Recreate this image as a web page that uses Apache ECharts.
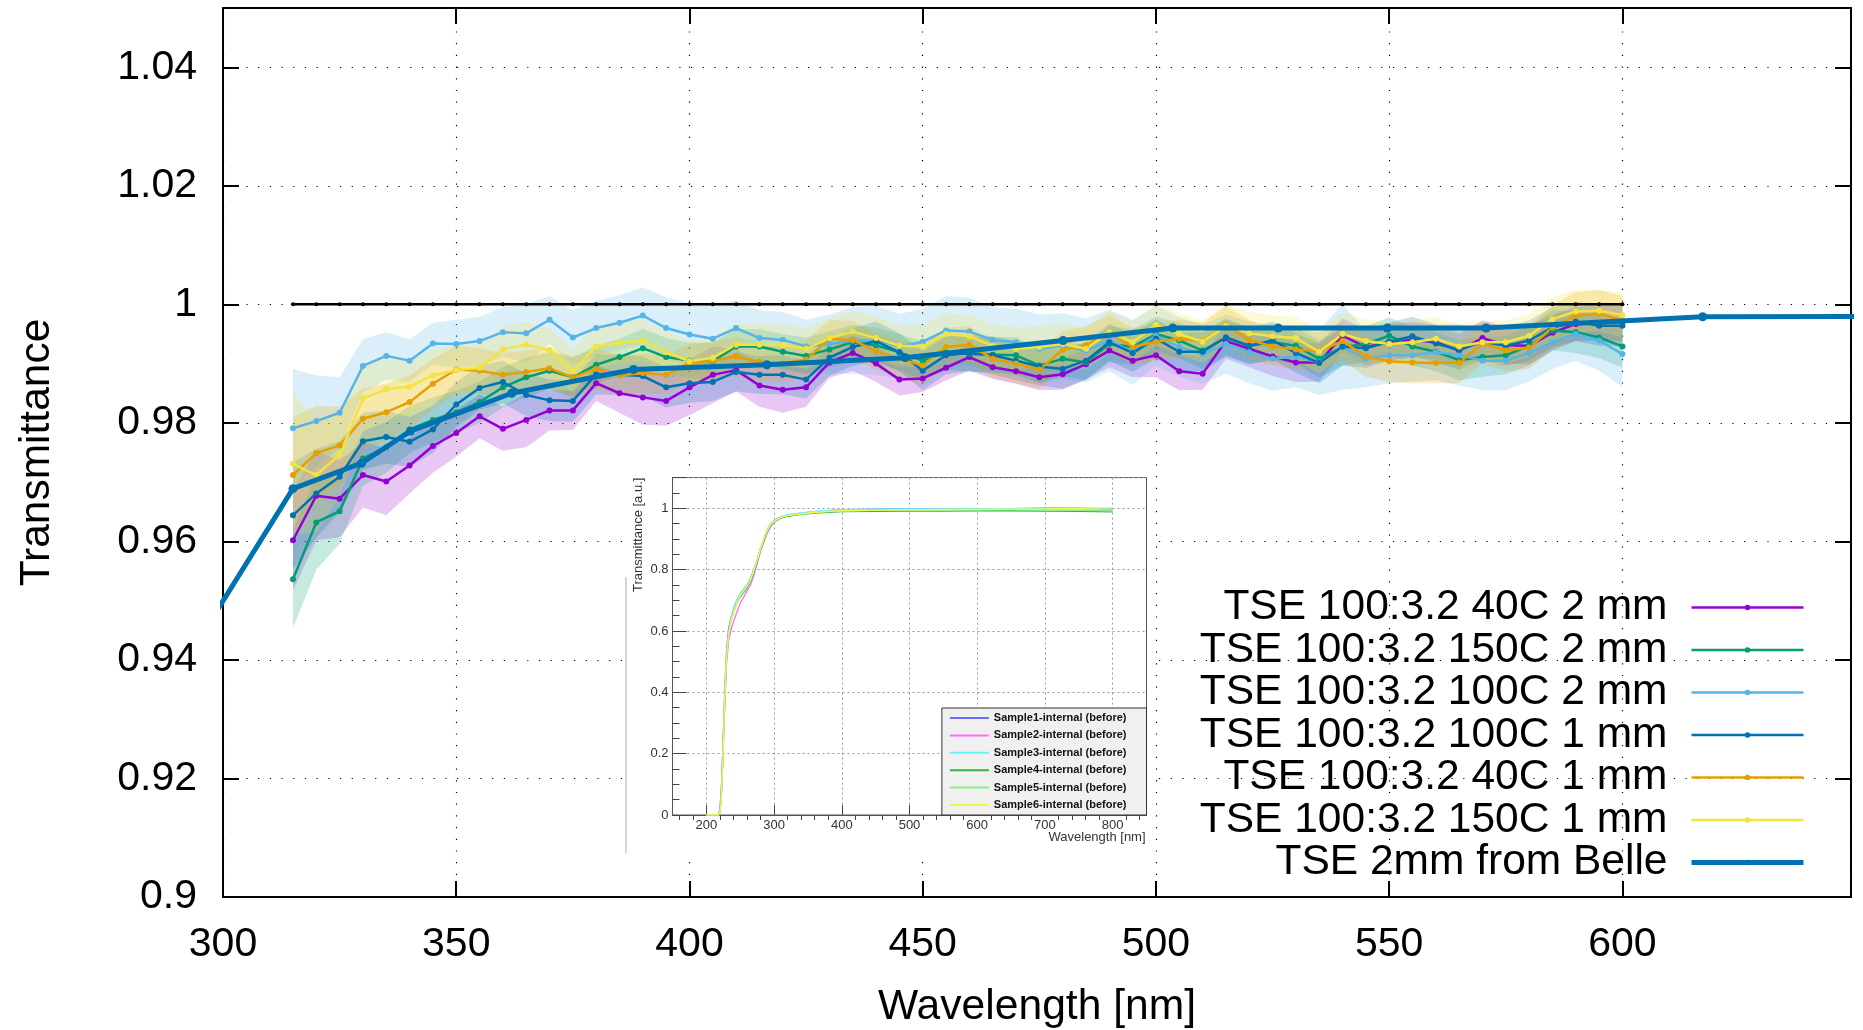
<!DOCTYPE html>
<html><head><meta charset="utf-8">
<script src="https://cdn.jsdelivr.net/npm/echarts@6/dist/echarts.min.js"></script>
<style>html,body{margin:0;padding:0;background:#fff}#c{width:1863px;height:1030px}</style>
</head><body><div id="c"></div>
<script>
// ---------- main chart data ----------
const WAVELENGTHS = [315,320,325,330,335,340,345,350,355,360,365,370,375,380,385,390,395,400,405,410,415,420,425,430,435,440,445,450,455,460,465,470,475,480,485,490,495,500,505,510,515,520,525,530,535,540,545,550,555,560,565,570,575,580,585,590,595,600];
const REFERENCE_ONE = [1,1,1,1,1,1,1,1,1,1,1,1,1,1,1,1,1,1,1,1,1,1,1,1,1,1,1,1,1,1,1,1,1,1,1,1,1,1,1,1,1,1,1,1,1,1,1,1,1,1,1,1,1,1,1,1,1,1];

const TSE_40C_2MM = [0.9602,0.9677,0.9672,0.9712,0.9701,0.9728,0.9761,0.9783,0.9811,0.9790,0.9805,0.9821,0.9821,0.9867,0.9850,0.9843,0.9837,0.9860,0.9881,0.9889,0.9863,0.9856,0.9860,0.9902,0.9918,0.9900,0.9873,0.9875,0.9893,0.9911,0.9894,0.9887,0.9877,0.9882,0.9899,0.9922,0.9905,0.9914,0.9887,0.9883,0.9938,0.9925,0.9912,0.9902,0.9902,0.9947,0.9928,0.9936,0.9940,0.9936,0.9922,0.9943,0.9931,0.9930,0.9952,0.9967,0.9968,0.9970];
const TSE_40C_2MM_ERR = [0.0085,0.0075,0.0065,0.0055,0.0057,0.0047,0.0045,0.0040,0.0037,0.0037,0.0046,0.0034,0.0033,0.0030,0.0033,0.0046,0.0042,0.0047,0.0048,0.0036,0.0036,0.0039,0.0033,0.0026,0.0030,0.0031,0.0027,0.0023,0.0021,0.0023,0.0020,0.0021,0.0022,0.0026,0.0026,0.0028,0.0028,0.0037,0.0032,0.0027,0.0030,0.0031,0.0033,0.0033,0.0032,0.0029,0.0030,0.0031,0.0030,0.0029,0.0028,0.0030,0.0031,0.0032,0.0030,0.0029,0.0030,0.0031];

const TSE_150C_2MM = [0.9536,0.9632,0.9651,0.9740,0.9759,0.9789,0.9805,0.9818,0.9835,0.9860,0.9877,0.9888,0.9877,0.9898,0.9911,0.9926,0.9911,0.9905,0.9904,0.9929,0.9929,0.9920,0.9913,0.9924,0.9936,0.9931,0.9919,0.9905,0.9919,0.9916,0.9915,0.9914,0.9897,0.9908,0.9902,0.9933,0.9928,0.9950,0.9939,0.9922,0.9944,0.9930,0.9936,0.9930,0.9908,0.9928,0.9933,0.9947,0.9929,0.9920,0.9906,0.9911,0.9914,0.9930,0.9956,0.9953,0.9944,0.9929];
const TSE_150C_2MM_ERR = [0.0082,0.0080,0.0055,0.0046,0.0043,0.0040,0.0038,0.0036,0.0035,0.0034,0.0033,0.0032,0.0033,0.0032,0.0031,0.0033,0.0032,0.0030,0.0031,0.0030,0.0029,0.0030,0.0031,0.0030,0.0029,0.0030,0.0031,0.0032,0.0030,0.0029,0.0030,0.0031,0.0030,0.0029,0.0030,0.0031,0.0030,0.0029,0.0030,0.0031,0.0030,0.0030,0.0031,0.0030,0.0032,0.0031,0.0030,0.0031,0.0032,0.0033,0.0034,0.0033,0.0032,0.0033,0.0034,0.0035,0.0035,0.0036];

const TSE_100C_2MM = [0.9791,0.9803,0.9817,0.9896,0.9913,0.9905,0.9934,0.9933,0.9938,0.9953,0.9951,0.9974,0.9944,0.9960,0.9969,0.9981,0.9960,0.9949,0.9942,0.9960,0.9943,0.9940,0.9929,0.9933,0.9939,0.9939,0.9929,0.9937,0.9956,0.9954,0.9940,0.9936,0.9925,0.9930,0.9922,0.9939,0.9919,0.9947,0.9928,0.9916,0.9933,0.9919,0.9908,0.9912,0.9902,0.9928,0.9908,0.9914,0.9914,0.9919,0.9915,0.9905,0.9905,0.9918,0.9936,0.9950,0.9939,0.9916];
const TSE_100C_2MM_ERR = [0.0100,0.0077,0.0060,0.0045,0.0040,0.0036,0.0035,0.0041,0.0041,0.0042,0.0049,0.0040,0.0046,0.0046,0.0046,0.0048,0.0052,0.0053,0.0057,0.0047,0.0047,0.0047,0.0045,0.0050,0.0056,0.0058,0.0055,0.0055,0.0058,0.0057,0.0055,0.0056,0.0058,0.0055,0.0054,0.0052,0.0055,0.0050,0.0050,0.0050,0.0050,0.0052,0.0054,0.0052,0.0055,0.0072,0.0048,0.0047,0.0044,0.0047,0.0052,0.0050,0.0050,0.0048,0.0045,0.0045,0.0051,0.0055];

const TSE_100C_1MM = [0.9644,0.9681,0.9709,0.9769,0.9776,0.9768,0.9789,0.9831,0.9859,0.9869,0.9847,0.9838,0.9837,0.9882,0.9881,0.9879,0.9860,0.9867,0.9869,0.9886,0.9881,0.9881,0.9873,0.9910,0.9928,0.9938,0.9919,0.9888,0.9914,0.9918,0.9914,0.9905,0.9895,0.9891,0.9905,0.9936,0.9918,0.9942,0.9920,0.9920,0.9944,0.9930,0.9939,0.9918,0.9901,0.9929,0.9926,0.9937,0.9946,0.9934,0.9923,0.9937,0.9930,0.9939,0.9961,0.9971,0.9964,0.9964];
const TSE_100C_1MM_ERR = [0.0090,0.0075,0.0060,0.0048,0.0045,0.0042,0.0040,0.0038,0.0037,0.0036,0.0036,0.0035,0.0035,0.0034,0.0034,0.0033,0.0034,0.0033,0.0032,0.0033,0.0032,0.0033,0.0032,0.0031,0.0032,0.0033,0.0032,0.0033,0.0032,0.0031,0.0032,0.0033,0.0032,0.0033,0.0032,0.0031,0.0032,0.0033,0.0032,0.0033,0.0032,0.0031,0.0032,0.0033,0.0034,0.0032,0.0033,0.0032,0.0033,0.0032,0.0033,0.0032,0.0033,0.0034,0.0034,0.0033,0.0034,0.0035];

const TSE_40C_1MM = [0.9712,0.9749,0.9762,0.9807,0.9818,0.9835,0.9866,0.9890,0.9888,0.9881,0.9886,0.9892,0.9877,0.9891,0.9880,0.9884,0.9881,0.9901,0.9905,0.9912,0.9903,0.9900,0.9907,0.9942,0.9940,0.9921,0.9908,0.9897,0.9928,0.9932,0.9908,0.9900,0.9890,0.9923,0.9931,0.9952,0.9928,0.9937,0.9942,0.9938,0.9965,0.9940,0.9929,0.9924,0.9921,0.9938,0.9912,0.9904,0.9902,0.9901,0.9902,0.9934,0.9922,0.9927,0.9961,0.9981,0.9984,0.9973];
const TSE_40C_1MM_ERR = [0.0098,0.0080,0.0065,0.0052,0.0048,0.0045,0.0042,0.0040,0.0038,0.0037,0.0036,0.0035,0.0035,0.0034,0.0034,0.0033,0.0033,0.0032,0.0032,0.0033,0.0032,0.0031,0.0032,0.0031,0.0032,0.0031,0.0032,0.0033,0.0032,0.0031,0.0032,0.0033,0.0032,0.0031,0.0032,0.0031,0.0032,0.0031,0.0032,0.0031,0.0032,0.0033,0.0032,0.0033,0.0032,0.0033,0.0034,0.0035,0.0035,0.0034,0.0035,0.0034,0.0035,0.0036,0.0038,0.0040,0.0040,0.0041];

const TSE_150C_1MM = [0.9731,0.9712,0.9746,0.9841,0.9857,0.9861,0.9880,0.9889,0.9893,0.9924,0.9932,0.9923,0.9887,0.9929,0.9935,0.9939,0.9919,0.9904,0.9910,0.9932,0.9932,0.9932,0.9925,0.9943,0.9954,0.9943,0.9930,0.9929,0.9950,0.9946,0.9930,0.9925,0.9928,0.9933,0.9925,0.9953,0.9936,0.9965,0.9950,0.9937,0.9964,0.9951,0.9946,0.9943,0.9920,0.9950,0.9938,0.9933,0.9936,0.9942,0.9929,0.9936,0.9936,0.9947,0.9975,0.9988,0.9989,0.9982];
const TSE_150C_1MM_ERR = [0.0120,0.0095,0.0072,0.0056,0.0051,0.0047,0.0044,0.0042,0.0040,0.0039,0.0038,0.0037,0.0037,0.0036,0.0036,0.0035,0.0036,0.0035,0.0035,0.0034,0.0035,0.0034,0.0035,0.0034,0.0035,0.0036,0.0035,0.0036,0.0035,0.0036,0.0037,0.0036,0.0035,0.0036,0.0035,0.0036,0.0035,0.0034,0.0035,0.0036,0.0035,0.0036,0.0035,0.0036,0.0037,0.0036,0.0037,0.0036,0.0037,0.0036,0.0037,0.0036,0.0037,0.0036,0.0037,0.0036,0.0035,0.0038];

const BELLE_WAVELENGTHS = [285,315,329.7,340.2,361.9,388.0,416.6,446.2,480.1,503.6,526.2,549.6,570.8,617.2,680];
const BELLE_TRANSMITTANCE = [0.931,0.9689,0.9732,0.9786,0.9850,0.9890,0.9898,0.9910,0.9939,0.9960,0.9960,0.9960,0.9960,0.9979,0.9980];

const SERIES_NAMES = ['TSE 100:3.2 40C 2 mm','TSE 100:3.2 150C 2 mm','TSE 100:3.2 100C 2 mm','TSE 100:3.2 100C 1 mm','TSE 100:3.2 40C 1 mm','TSE 100:3.2 150C 1 mm'];
const BELLE_NAME = 'TSE 2mm from Belle';
const X_TICKS = [300,350,400,450,500,550,600];
const Y_TICKS = [0.9,0.92,0.94,0.96,0.98,1,1.02,1.04];

// ---------- inset data ----------
const INSET_WAVELENGTHS = [200,210,215,218,220,222,224,226,228,230,233,236,240,245,250,255,260,265,270,275,280,285,290,295,300,310,320,340,360,380,400,450,500,550,600,650,700,750,800];
const SAMPLE1 = [0,0,0,0,0.02,0.08,0.20,0.33,0.45,0.54,0.61,0.64,0.67,0.70,0.72,0.735,0.75,0.77,0.80,0.83,0.87,0.90,0.93,0.95,0.96,0.972,0.978,0.984,0.989,0.992,0.995,0.997,0.998,0.999,0.999,0.999,1.000,1.000,0.998];
const SAMPLE2 = [0,0,0,0,0.01,0.05,0.15,0.28,0.40,0.50,0.57,0.60,0.63,0.66,0.69,0.71,0.73,0.75,0.78,0.82,0.86,0.89,0.92,0.94,0.955,0.968,0.975,0.981,0.986,0.990,0.993,0.995,0.996,0.997,0.997,0.998,0.998,0.999,0.999];
const SAMPLE3 = [0,0,0,0,0.02,0.07,0.19,0.32,0.44,0.53,0.60,0.64,0.67,0.70,0.72,0.735,0.75,0.77,0.80,0.83,0.87,0.90,0.93,0.95,0.96,0.972,0.979,0.985,0.990,0.993,0.996,0.997,0.998,0.998,0.999,0.999,0.999,0.999,0.998];
const SAMPLE4 = [0,0,0,0,0.01,0.06,0.17,0.30,0.42,0.52,0.59,0.63,0.66,0.69,0.71,0.725,0.74,0.76,0.79,0.825,0.865,0.895,0.925,0.945,0.957,0.968,0.974,0.980,0.984,0.987,0.989,0.990,0.991,0.991,0.992,0.992,0.991,0.990,0.988];
const SAMPLE5 = [0,0,0,0,0.01,0.06,0.18,0.31,0.43,0.52,0.59,0.63,0.66,0.69,0.715,0.73,0.745,0.765,0.795,0.83,0.868,0.90,0.928,0.948,0.958,0.970,0.976,0.982,0.986,0.989,0.991,0.993,0.994,0.994,0.995,0.995,0.994,0.993,0.992];
const SAMPLE6 = [0,0,0,0,0.01,0.05,0.16,0.30,0.42,0.52,0.59,0.63,0.66,0.69,0.715,0.73,0.745,0.765,0.795,0.83,0.868,0.90,0.928,0.948,0.958,0.970,0.976,0.982,0.987,0.990,0.992,0.994,0.995,0.996,0.996,0.997,0.998,1.000,1.002];
const INSET_NAMES = ['Sample1-internal (before)','Sample2-internal (before)','Sample3-internal (before)','Sample4-internal (before)','Sample5-internal (before)','Sample6-internal (before)'];
const INSET_X_TICKS = [200,300,400,500,600,700,800];
const INSET_X_MINOR = [160,180,220,240,260,280,320,340,360,380,420,440,460,480,520,540,560,580,620,640,660,680,720,740,760,780,820,840];

// ---------- styling ----------
const FONT = "'Liberation Sans', Arial, Helvetica, sans-serif";
const COLORS = ['#9400d3','#009e73','#56b4e9','#0072b2','#e69f00','#f0e442'];
const BAND_ALPHA = 0.22;
const INSET_COLORS = ['#6b6bff','#ff6bff','#66f5f5','#3cb043','#8cf08c','#f5f550'];

function rgba(hex, a) {
  const n = parseInt(hex.slice(1), 16);
  return 'rgba(' + ((n >> 16) & 255) + ',' + ((n >> 8) & 255) + ',' + (n & 255) + ',' + a + ')';
}
function pairs(xs, ys) { return xs.map((x, i) => [x, ys[i]]); }

function bandSeries(vals, errs, color) {
  return {
    type: 'custom', xAxisIndex: 0, yAxisIndex: 0, silent: true, z: 2,
    data: WAVELENGTHS.map((w, i) => [w, vals[i] - errs[i], vals[i] + errs[i]]),
    encode: { x: 0, y: [1, 2] },
    renderItem: function (params, api) {
      if (params.dataIndexInside !== 0) return null;
      const up = [], dn = [];
      for (let i = 0; i < WAVELENGTHS.length; i++) {
        up.push(api.coord([WAVELENGTHS[i], vals[i] + errs[i]]));
        dn.push(api.coord([WAVELENGTHS[i], vals[i] - errs[i]]));
      }
      return { type: 'polygon', shape: { points: up.concat(dn.reverse()) }, style: { fill: rgba(color, BAND_ALPHA), stroke: null } };
    }
  };
}
function lineSeries(name, vals, color) {
  return {
    type: 'line', name: name, xAxisIndex: 0, yAxisIndex: 0, z: 2,
    data: pairs(WAVELENGTHS, vals),
    symbol: 'circle', symbolSize: 6, showSymbol: true,
    lineStyle: { color: color, width: 2.5 }, itemStyle: { color: color },
    emphasis: { disabled: true }, clip: true
  };
}

const seriesData = [TSE_40C_2MM, TSE_150C_2MM, TSE_100C_2MM, TSE_100C_1MM, TSE_40C_1MM, TSE_150C_1MM];
const errData = [TSE_40C_2MM_ERR, TSE_150C_2MM_ERR, TSE_100C_2MM_ERR, TSE_100C_1MM_ERR, TSE_40C_1MM_ERR, TSE_150C_1MM_ERR];

const series = [];
series.push({
  type: 'line', name: 'reference', xAxisIndex: 0, yAxisIndex: 0, z: 2,
  data: pairs(WAVELENGTHS, REFERENCE_ONE),
  symbol: 'circle', symbolSize: 4, lineStyle: { color: '#000', width: 2.5 }, itemStyle: { color: '#000' },
  emphasis: { disabled: true }
});
for (let i = 0; i < 6; i++) {
  series.push(bandSeries(seriesData[i], errData[i], COLORS[i]));
  series.push(lineSeries(SERIES_NAMES[i], seriesData[i], COLORS[i]));
}
series.push({
  type: 'line', name: BELLE_NAME, xAxisIndex: 0, yAxisIndex: 0, z: 3,
  data: pairs(BELLE_WAVELENGTHS, BELLE_TRANSMITTANCE),
  symbol: 'circle', symbolSize: 9, lineStyle: { color: '#0072b2', width: 5 }, itemStyle: { color: '#0072b2' },
  emphasis: { disabled: true }, clip: true
});
const insetSamples = [SAMPLE1, SAMPLE2, SAMPLE3, SAMPLE4, SAMPLE5, SAMPLE6];
for (let i = 0; i < 6; i++) {
  series.push({
    type: 'line', name: INSET_NAMES[i], xAxisIndex: 2, yAxisIndex: 2, z: 8,
    data: pairs(INSET_WAVELENGTHS, insetSamples[i]),
    symbol: 'none', lineStyle: { color: INSET_COLORS[i], width: 1.3 }, itemStyle: { color: INSET_COLORS[i] },
    emphasis: { disabled: true }
  });
}

const isTick = (v, list) => list.some(t => Math.abs(t - v) < 1e-9);

const mainX = {
  type: 'value', gridIndex: 0, min: 300, max: 649, interval: 50,
  axisLine: { show: true, onZero: false, lineStyle: { color: '#000', width: 2 } },
  axisTick: { show: true, inside: true, length: 16, lineStyle: { color: '#000', width: 2 } },
  axisLabel: { color: '#000', fontSize: 41, fontFamily: FONT, margin: 27, formatter: v => isTick(v, X_TICKS) ? String(v) : '' },
  splitLine: { show: true, lineStyle: { color: '#000', width: 1.2, type: [1.2, 10.5] } },
  name: 'Wavelength [nm]', nameLocation: 'middle', nameGap: 89, nameMoveOverlap: false,
  nameTextStyle: { color: '#000', fontSize: 42.6, fontFamily: FONT }
};
const mainXTop = {
  type: 'value', gridIndex: 0, min: 300, max: 649, interval: 50, position: 'top',
  axisLine: { show: true, onZero: false, lineStyle: { color: '#000', width: 2 } },
  axisTick: { show: true, inside: true, length: 16, lineStyle: { color: '#000', width: 2 } },
  axisLabel: { show: false }, splitLine: { show: false }
};
const mainY = {
  type: 'value', gridIndex: 0, min: 0.9, max: 1.05, interval: 0.02,
  axisLine: { show: true, onZero: false, lineStyle: { color: '#000', width: 2 } },
  axisTick: { show: true, inside: true, length: 16, lineStyle: { color: '#000', width: 2 } },
  axisLabel: { color: '#000', fontSize: 41, fontFamily: FONT, margin: 26, formatter: v => isTick(v, Y_TICKS) ? String(+v.toFixed(2)) : '' },
  splitLine: { show: true, lineStyle: { color: '#000', width: 1.2, type: [1.2, 10.5] } },
  name: 'Transmittance', nameLocation: 'middle', nameGap: 164, nameMoveOverlap: false,
  nameTextStyle: { color: '#000', fontSize: 42.5, fontFamily: FONT }
};
const mainYRight = {
  type: 'value', gridIndex: 0, min: 0.9, max: 1.05, interval: 0.02, position: 'right',
  axisLine: { show: true, onZero: false, lineStyle: { color: '#000', width: 2 } },
  axisTick: { show: true, inside: true, length: 16, lineStyle: { color: '#000', width: 2 } },
  axisLabel: { show: false }, splitLine: { show: false }
};

const insetX = {
  type: 'value', gridIndex: 1, min: 150, max: 850, z: 7,
  axisLine: { show: true, onZero: false, lineStyle: { color: '#555', width: 1 } },
  axisTick: { show: true, inside: true, length: 10, customValues: INSET_X_TICKS, lineStyle: { color: '#444', width: 1 } },
  axisLabel: { show: true, customValues: INSET_X_TICKS, color: '#333', fontSize: 13, fontFamily: FONT, margin: 4 },
  splitLine: { show: true, lineStyle: { color: '#999', width: 1, type: [2, 3] } },
  name: 'Wavelength [nm]', nameLocation: 'end', nameGap: -98, nameMoveOverlap: false,
  nameTextStyle: { color: '#333', fontSize: 13, fontFamily: FONT, align: 'left', verticalAlign: 'top', padding: [16, 0, 0, 0] }
};
const insetXMinor = {
  type: 'value', gridIndex: 1, min: 150, max: 850, z: 7,
  axisLine: { show: false },
  axisTick: { show: true, inside: true, length: 5, customValues: INSET_X_MINOR, lineStyle: { color: '#444', width: 1 } },
  axisLabel: { show: false }, splitLine: { show: false }
};
const insetY = {
  type: 'value', gridIndex: 1, min: 0, max: 1.1, interval: 0.2, z: 7,
  axisLine: { show: true, onZero: false, lineStyle: { color: '#555', width: 1 } },
  axisTick: { show: true, inside: true, length: 14, lineStyle: { color: '#444', width: 1 } },
  minorTick: { show: true, splitNumber: 4, length: 7, lineStyle: { color: '#444', width: 1 } },
  axisLabel: { color: '#333', fontSize: 13, fontFamily: FONT, margin: 4, formatter: v => v > 1.05 ? '' : String(+v.toFixed(1)) },
  splitLine: { show: true, lineStyle: { color: '#999', width: 1, type: [2, 3] } },
  name: 'Transmittance [a.u.]', nameLocation: 'end', nameGap: 0, nameRotate: 90, nameMoveOverlap: false,
  nameTextStyle: { color: '#333', fontSize: 13, fontFamily: FONT, align: 'right', verticalAlign: 'bottom', padding: [0, 0, 28, 0] }
};

const option = {
  animation: false,
  backgroundColor: '#fff',
  textStyle: { fontFamily: FONT },
  grid: [
    { left: 223, right: 12, top: 8, bottom: 133, containLabel: false, outerBoundsMode: 'none' },
    { left: 672.5, top: 477.6, width: 474, height: 337.4, show: true, backgroundColor: '#fff', borderColor: '#555', borderWidth: 1, z: 6, containLabel: false, outerBoundsMode: 'none' }
  ],
  xAxis: [mainX, mainXTop, insetX, insetXMinor],
  yAxis: [mainY, mainYRight, insetY],
  legend: [
    {
      data: SERIES_NAMES.concat([BELLE_NAME]),
      orient: 'vertical', align: 'right', right: 57, top: 586, padding: 0,
      itemWidth: 112, itemHeight: 7, itemGap: -0.5, selectedMode: false,
      lineStyle: { width: 'inherit' },
      textStyle: { color: '#000', fontSize: 42.5, fontFamily: FONT, lineHeight: 40, padding: [0, 19, 0, 0] }
    },
    {
      data: INSET_NAMES, z: 9,
      orient: 'vertical', align: 'left', right: 716.5, bottom: 215,
      icon: 'rect', itemWidth: 39, itemHeight: 2, itemGap: 5.4, selectedMode: false,
      backgroundColor: '#f0f0f0', borderColor: '#333', borderWidth: 1, padding: [4, 20, 4, 8],
      textStyle: { color: '#111', fontSize: 11, fontWeight: 'bold', fontFamily: FONT, lineHeight: 12 }
    }
  ],
  graphic: [
    { type: 'rect', z: 5, silent: true, shape: { x: 624, y: 466, width: 528, height: 391 }, style: { fill: '#fff' } },
    { type: 'line', z: 6, silent: true, shape: { x1: 626, y1: 577, x2: 626, y2: 853 }, style: { stroke: '#c8c8c8', lineWidth: 1.5 } }
  ],
  series: series
};

const chart = echarts.init(document.getElementById('c'), null, { renderer: 'canvas' });
chart.setOption(option);
</script>
</body></html>
